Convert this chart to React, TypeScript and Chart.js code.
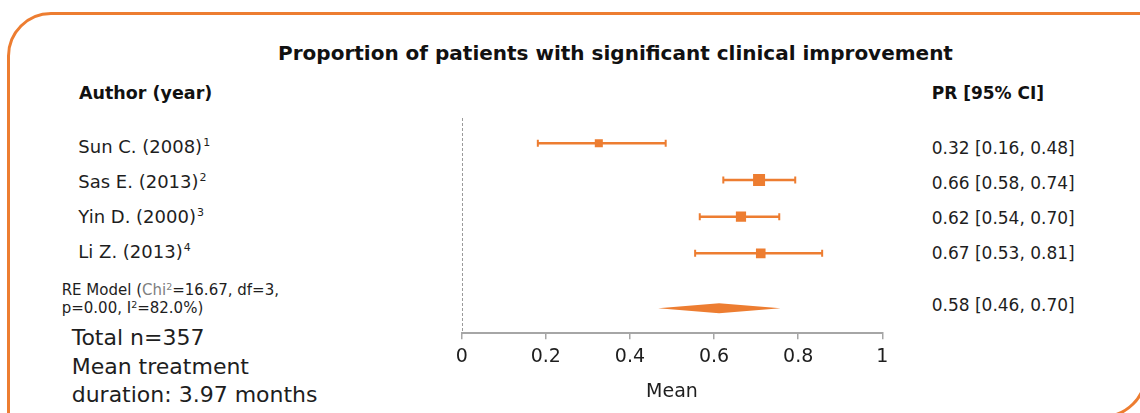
import React, { useEffect, useRef } from 'react';
import { Chart, registerables } from 'chart.js';

Chart.register(...registerables);

// ---------- data ----------
const chartTitle = 'Proportion of patients with significant clinical improvement';
const leftHeader = 'Author (year)';
const rightHeader = 'PR [95% CI]';
const studyLabels = ['Sun C. (2008)', 'Sas E. (2013)', 'Yin D. (2000)', 'Li Z. (2013)'];
const studyRefs = ['1', '2', '3', '4'];
const prTexts = ['0.32 [0.16, 0.48]', '0.66 [0.58, 0.74]', '0.62 [0.54, 0.70]', '0.67 [0.53, 0.81]'];
const pooledText = '0.58 [0.46, 0.70]';
const plotEstimates = [0.326, 0.707, 0.664, 0.711];
const plotLower = [0.181, 0.622, 0.566, 0.555];
const plotUpper = [0.485, 0.793, 0.755, 0.857];
const studyWeights = [0.67, 1.0, 0.85, 0.8];
const pooledEstimate = 0.612;
const pooledLower = 0.467;
const pooledUpper = 0.758;
const xTickValues = [0, 0.2, 0.4, 0.6, 0.8, 1];
const xTickLabels = ['0', '0.2', '0.4', '0.6', '0.8', '1'];
const xAxisTitle = 'Mean';
const summaryLines = ['Total n=357', 'Mean treatment', 'duration: 3.97 months'];

// ---------- styles ----------
const ORANGE = '#ED7D31';
const AXIS_GRAY = '#a6a6a6';
const TEXT = '#1e1e1e';
const FONT = '"DejaVu Sans", sans-serif';
const pooledRow = studyLabels.length + 0.5;

const forestPlugin = {
  id: 'forest',
  beforeDatasetsDraw(chart: any) {
    const { ctx, chartArea, scales } = chart;
    const x = scales.x;
    const y = scales.y;
    ctx.save();
    // dashed reference line at 0
    const x0 = Math.round(x.getPixelForValue(0)) + 0.5;
    ctx.strokeStyle = '#9a9a9a';
    ctx.lineWidth = 1;
    ctx.setLineDash([3, 2]);
    ctx.beginPath();
    ctx.moveTo(x0, chartArea.top);
    ctx.lineTo(x0, chartArea.bottom);
    ctx.stroke();
    ctx.setLineDash([]);
    // confidence intervals
    ctx.strokeStyle = ORANGE;
    plotLower.forEach((lo, i) => {
      const yp = y.getPixelForValue(i);
      const xl = x.getPixelForValue(lo);
      const xr = x.getPixelForValue(plotUpper[i]);
      ctx.lineWidth = 2.5;
      ctx.beginPath();
      ctx.moveTo(xl, yp);
      ctx.lineTo(xr, yp);
      ctx.stroke();
      ctx.lineWidth = 2;
      ctx.beginPath();
      ctx.moveTo(xl, yp - 3.5);
      ctx.lineTo(xl, yp + 3.5);
      ctx.moveTo(xr, yp - 3.5);
      ctx.lineTo(xr, yp + 3.5);
      ctx.stroke();
    });
    // pooled diamond
    const yd = y.getPixelForValue(pooledRow);
    const xm = x.getPixelForValue(pooledEstimate);
    ctx.fillStyle = ORANGE;
    ctx.beginPath();
    ctx.moveTo(x.getPixelForValue(pooledLower), yd);
    ctx.lineTo(xm, yd - 5);
    ctx.lineTo(x.getPixelForValue(pooledUpper), yd);
    ctx.lineTo(xm, yd + 5);
    ctx.closePath();
    ctx.fill();
    ctx.restore();
  },
};

function ForestChart() {
  const ref = useRef<HTMLCanvasElement | null>(null);
  useEffect(() => {
    if (!ref.current) return;
    Chart.defaults.font.family = FONT;
    const chart = new Chart(ref.current, {
      type: 'scatter',
      data: {
        datasets: [
          {
            data: plotEstimates.map((v, i) => ({ x: v, y: i })),
            pointStyle: 'rect',
            pointRadius: studyWeights.map((w) => (12 * w) / Math.SQRT2),
            backgroundColor: ORANGE,
            borderWidth: 0,
          },
        ],
      },
      options: {
        animation: false,
        responsive: false,
        devicePixelRatio: 1,
        layout: { padding: { left: 41.7, right: 57.7, top: 18, bottom: 0 } },
        plugins: { legend: { display: false }, tooltip: { enabled: false } },
        scales: {
          x: {
            type: 'linear',
            position: 'bottom',
            min: 0,
            max: 1,
            afterBuildTicks: (s: any) => {
              s.ticks = xTickValues.map((v) => ({ value: v }));
            },
            afterFit: (s: any) => {
              s.height = 79.7;
            },
            ticks: {
              callback: (_v: any, i: number) => xTickLabels[i],
              font: { size: 19, family: FONT },
              color: TEXT,
              padding: 6,
              maxRotation: 0,
              autoSkip: false,
            },
            grid: {
              display: true,
              drawOnChartArea: false,
              drawTicks: true,
              tickLength: 6,
              color: AXIS_GRAY,
              lineWidth: 1.5,
            },
            border: { display: true, color: AXIS_GRAY, width: 2 },
            title: {
              display: true,
              text: xAxisTitle,
              font: { size: 19, family: FONT },
              color: TEXT,
              padding: { top: 4, bottom: 10 },
            },
          },
          y: {
            type: 'linear',
            reverse: true,
            min: -0.69,
            max: 5.18,
            display: false,
          },
        },
      },
      plugins: [forestPlugin],
    } as any);
    return () => chart.destroy();
  }, []);
  return <canvas ref={ref} width={520} height={313} style={{ width: 520, height: 313, display: 'block' }} />;
}

const abs = (left: number, centerY: number, lh: number): React.CSSProperties => ({
  position: 'absolute',
  left,
  top: centerY - lh / 2,
  height: lh,
  lineHeight: `${lh}px`,
  whiteSpace: 'nowrap',
});

export default function App() {
  const leftRows = [146.7, 181.7, 216.7, 251.5];
  const rightRows = [147.7, 183, 218, 252.7];
  return (
    <div style={{ position: 'fixed', inset: 0, overflow: 'hidden', background: '#fff', fontFamily: FONT, color: TEXT }}>
      <div
        style={{
          position: 'absolute',
          left: 7,
          top: 12,
          width: 1140,
          height: 406,
          boxSizing: 'border-box',
          border: `3px solid ${ORANGE}`,
          borderTopLeftRadius: 44,
          borderBottomRightRadius: 44,
        }}
      />
      <div
        style={{
          position: 'absolute',
          left: 615.5,
          top: 53 - 14,
          height: 28,
          lineHeight: '28px',
          transform: 'translateX(-50%)',
          whiteSpace: 'nowrap',
          fontWeight: 'bold',
          fontSize: 20,
          color: '#111',
        }}
      >
        {chartTitle}
      </div>
      <div style={{ ...abs(79, 93.3, 24), fontWeight: 'bold', fontSize: 17.5, color: '#111' }}>{leftHeader}</div>
      <div style={{ ...abs(931.7, 93.3, 24), fontWeight: 'bold', fontSize: 17, color: '#111' }}>{rightHeader}</div>
      {studyLabels.map((s, i) => (
        <div key={s} style={{ ...abs(78.3, leftRows[i], 24), fontSize: 18 }}>
          {s}
          <span style={{ fontSize: 11, position: 'relative', top: -7, marginLeft: 1 }}>{studyRefs[i]}</span>
        </div>
      ))}
      {prTexts.map((t, i) => (
        <div key={t} style={{ ...abs(931.7, rightRows[i], 24), fontSize: 17 }}>
          {t}
        </div>
      ))}
      <div style={{ ...abs(931.7, 305, 24), fontSize: 17 }}>{pooledText}</div>
      <div style={{ ...abs(61.7, 290, 18), fontSize: 15 }}>
        RE Model (<span style={{ color: '#808080' }}>Chi</span>
        <span style={{ fontSize: 9.5, position: 'relative', top: -5, color: '#808080' }}>2</span>=16.67, df=3,
      </div>
      <div style={{ ...abs(61.7, 308, 18), fontSize: 15 }}>
        p=0.00, I<span style={{ fontSize: 9.5, position: 'relative', top: -5 }}>2</span>=82.0%)
      </div>
      {summaryLines.map((t, i) => (
        <div key={t} style={{ ...abs(71.7, 338 + i * 28.5, 28), fontSize: 22 }}>
          {t}
        </div>
      ))}
      <div style={{ position: 'absolute', left: 420, top: 100 }}>
        <ForestChart />
      </div>
    </div>
  );
}
